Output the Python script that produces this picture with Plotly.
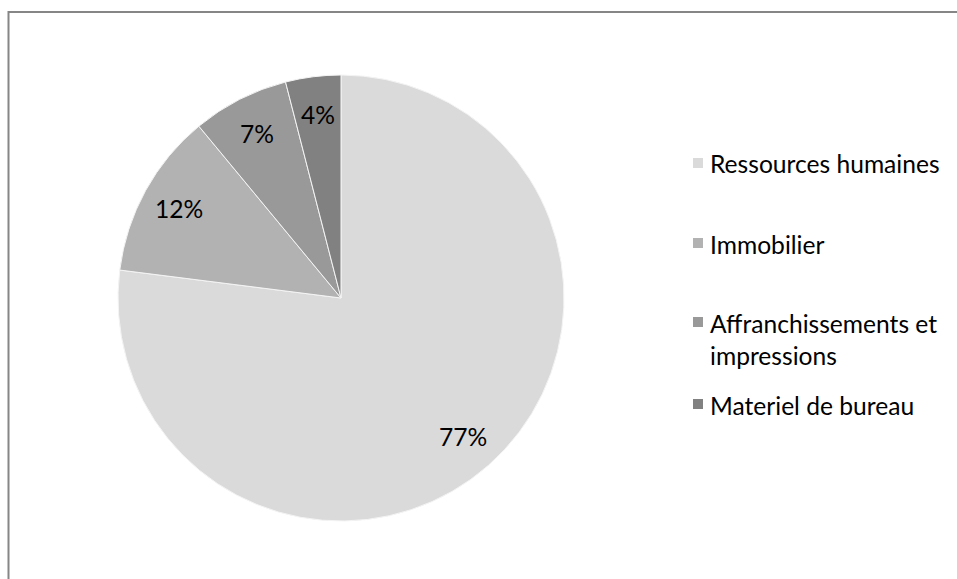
import math
import plotly.graph_objects as go

# Répartition des charges
categories = ["Ressources humaines", "Immobilier", "Affranchissements et impressions", "Materiel de bureau"]
legend_labels = ["Ressources humaines", "Immobilier", "Affranchissements et<br>impressions", "Materiel de bureau"]
values = [77, 12, 7, 4]
colors = ["#dadada", "#b2b2b2", "#999999", "#818181"]

W, H = 957, 579
FONT = "Lato, Calibri, Carlito, sans-serif"
FS = 24.6

# pie placement (pixels)
CX, CY, R = 341, 298, 223
LABEL_RADIUS = 0.83

fig = go.Figure()
fig.add_trace(go.Pie(
    labels=categories,
    values=values,
    sort=False,
    direction="clockwise",
    rotation=0,
    marker=dict(colors=colors, line=dict(color="#f4f4f4", width=1)),
    textinfo="none",
    domain=dict(x=[(CX - R) / W, (CX + R) / W], y=[1 - (CY + R) / H, 1 - (CY - R) / H]),
    showlegend=False,
    hoverinfo="label+percent",
))

annotations = []

# percentage labels placed along each slice's mid-angle
total = sum(values)
cum = 0
for v in values:
    mid = (cum + v / 2) / total * 2 * math.pi  # clockwise from 12 o'clock
    cum += v
    px = CX + LABEL_RADIUS * R * math.sin(mid)
    py = CY - LABEL_RADIUS * R * math.cos(mid)
    annotations.append(dict(xref="paper", yref="paper", x=px / W, y=1 - py / H,
                            xanchor="center", yanchor="middle", showarrow=False,
                            text=f"{round(v / total * 100)}%",
                            font=dict(family=FONT, size=FS, color="#000000")))

# chart frame
shapes = [dict(type="rect", xref="paper", yref="paper",
               x0=8.5 / W, x1=1.02, y0=-0.02, y1=1 - 12 / H,
               line=dict(color="#868686", width=2), fillcolor="rgba(0,0,0,0)", layer="below")]

# legend drawn as squares + text
legend_y = [163, 243, 322, 404]
LINE_H = 31
for lab, col, yc in zip(legend_labels, colors, legend_y):
    shapes.append(dict(type="rect", xref="paper", yref="paper",
                       x0=693 / W, x1=703 / W, y0=1 - (yc + 5) / H, y1=1 - (yc - 5) / H,
                       line=dict(width=0), fillcolor=col))
    annotations.append(dict(xref="paper", yref="paper", x=708 / W, y=1 - (yc - LINE_H / 2) / H,
                            xanchor="left", yanchor="top", align="left", showarrow=False,
                            text=lab, font=dict(family=FONT, size=FS, color="#000000")))

fig.update_layout(
    width=W, height=H,
    margin=dict(l=0, r=0, t=0, b=0),
    paper_bgcolor="#ffffff",
    plot_bgcolor="#ffffff",
    shapes=shapes,
    annotations=annotations,
)

fig.write_html("out.html")
